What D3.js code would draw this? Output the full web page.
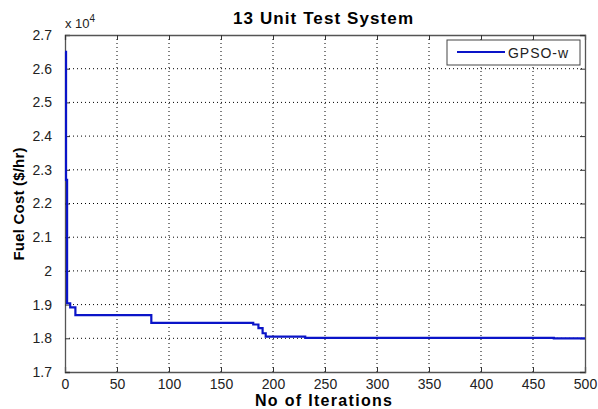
<!DOCTYPE html>
<html>
<head>
<meta charset="utf-8">
<script src="https://cdn.jsdelivr.net/npm/d3@7"></script>
<style>
body { margin: 0; background: #fff; }
svg { display: block; font-family: Arial, "Liberation Sans", sans-serif; }
</style>
</head>
<body>
<svg id="chart" width="598" height="409"></svg>
<script>
// step changes of the best fuel cost (x 10^4 $/hr)
var iterations = [0, 1, 2, 5, 10, 83, 181, 186, 190, 193, 231, 470, 500];
var fuelCost = [2.65, 2.27, 1.904, 1.892, 1.869, 1.846, 1.841, 1.83, 1.815, 1.805, 1.801, 1.7995, 1.7995];
var xTicks = [0, 50, 100, 150, 200, 250, 300, 350, 400, 450, 500];
var yTicks = [1.7, 1.8, 1.9, 2, 2.1, 2.2, 2.3, 2.4, 2.5, 2.6, 2.7];
var seriesName = 'GPSO-w';

var svg = d3.select('#chart');
var m = { left: 65, right: 13, top: 35, bottom: 37 };
var W = 598, H = 409;
var pw = W - m.left - m.right, ph = H - m.top - m.bottom;

var x = d3.scaleLinear().domain([0, 500]).range([0, pw]);
var y = d3.scaleLinear().domain([1.7, 2.7]).range([ph, 0]);

var g = svg.append('g').attr('transform', 'translate(' + m.left + ',' + m.top + ')');

// grid
g.append('g').selectAll('line').data(xTicks.slice(1, -1)).join('line')
	.attr('x1', function (d) { return x(d); }).attr('x2', function (d) { return x(d); })
	.attr('y1', 0).attr('y2', ph)
	.attr('stroke', '#000').attr('stroke-width', 1).attr('stroke-dasharray', '1,3');
g.append('g').selectAll('line').data(yTicks.slice(1, -1)).join('line')
	.attr('y1', function (d) { return y(d); }).attr('y2', function (d) { return y(d); })
	.attr('x1', 0).attr('x2', pw)
	.attr('stroke', '#000').attr('stroke-width', 1).attr('stroke-dasharray', '1,3');

// axes (ticks pointing inward, like matlab)
var fmt = function (d) { return d3.format('.1f')(d).replace(/\.0$/, ''); };
var xAxis = g.append('g').attr('transform', 'translate(0,' + ph + ')')
	.call(d3.axisBottom(x).tickValues(xTicks).tickSize(-5).tickPadding(7));
var yAxis = g.append('g')
	.call(d3.axisLeft(y).tickValues(yTicks).tickSize(-5).tickPadding(13).tickFormat(fmt));
g.append('g').call(d3.axisTop(x).tickValues(xTicks).tickSize(-5).tickFormat(''));
g.append('g').attr('transform', 'translate(' + pw + ',0)')
	.call(d3.axisRight(y).tickValues(yTicks).tickSize(-5).tickFormat(''));
g.selectAll('.domain').attr('stroke', '#555').attr('stroke-width', 1.3);
g.selectAll('.tick line').attr('stroke', '#333');
[xAxis, yAxis].forEach(function (a) {
	a.selectAll('text').attr('font-size', 14).attr('fill', '#222');
});

// line
var line = d3.line()
	.x(function (d) { return x(d[0]); })
	.y(function (d) { return y(d[1]); })
	.curve(d3.curveStepAfter);
g.append('path')
	.datum(d3.zip(iterations, fuelCost))
	.attr('fill', 'none')
	.attr('stroke', '#0a14c8')
	.attr('stroke-width', 2.2)
	.attr('d', line);

// legend
var lg = svg.append('g').attr('transform', 'translate(447,40)');
lg.append('rect').attr('width', 133).attr('height', 25)
	.attr('fill', '#fff').attr('stroke', '#444').attr('stroke-width', 1);
lg.append('line').attr('x1', 10).attr('x2', 58).attr('y1', 12).attr('y2', 12)
	.attr('stroke', '#0a14c8').attr('stroke-width', 2.2);
lg.append('text').attr('x', 61).attr('y', 18).attr('font-size', 14).attr('fill', '#222')
	.attr('textLength', 60).text(seriesName);

// labels
svg.append('text').attr('x', 323).attr('y', 24).attr('text-anchor', 'middle')
	.attr('font-size', 17).attr('font-weight', 'bold').attr('textLength', 180)
	.text('13 Unit Test System');
svg.append('text').attr('x', 323.5).attr('y', 406).attr('text-anchor', 'middle')
	.attr('font-size', 16).attr('font-weight', 'bold').attr('textLength', 137)
	.text('No of Iterations');
svg.append('text').attr('transform', 'translate(24,204) rotate(-90)')
	.attr('text-anchor', 'middle').attr('font-size', 15).attr('font-weight', 'bold')
	.attr('textLength', 113).text('Fuel Cost ($/hr)');
var ex = svg.append('text').attr('x', 65).attr('y', 28).attr('font-size', 13).attr('fill', '#222');
ex.append('tspan').text('x 10');
ex.append('tspan').attr('dy', -6).attr('font-size', 10).text('4');
</script>
</body>
</html>
